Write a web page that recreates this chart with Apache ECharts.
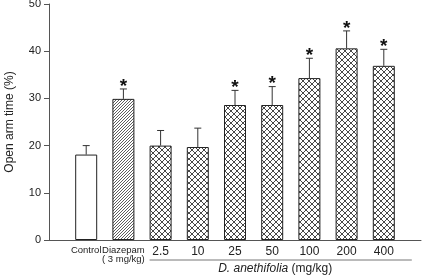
<!DOCTYPE html>
<html>
<head>
<meta charset="utf-8">
<script src="https://cdn.jsdelivr.net/npm/echarts@6/dist/echarts.min.js"></script>
<style>
  html, body { margin: 0; padding: 0; background: #fff; }
  #chart { width: 422px; height: 278px; }
</style>
</head>
<body>
<div id="chart"></div>
<script>
// blank slots at both ends so the axis line runs past the bars
var groups = ['', 'Control', 'Diazepam', '2.5', '10', '25', '50', '100', '200', '400', ''];
var means  = [null, 18.1, 29.9, 20.0, 19.7, 28.6, 28.6, 34.3, 40.6, 36.9, null];
var sems   = [null, 1.9, 2.1, 3.2, 4.0, 3.1, 3.9, 4.2, 3.7, 3.5, null];
var signif = [false, false, true, false, false, true, true, true, true, true, false];
var yTicks = [0, 10, 20, 30, 40, 50];

function makePattern(kind) {
    var c = document.createElement('canvas');
    var s = kind == 'cross' ? 6 : 3;
    c.width = s; c.height = s;
    var ctx = c.getContext('2d');
    ctx.fillStyle = '#fff';
    ctx.fillRect(0, 0, s, s);
    ctx.strokeStyle = '#333';
    ctx.lineWidth = kind == 'cross' ? 0.9 : 0.8;
    ctx.beginPath();
    ctx.moveTo(-1, s + 1); ctx.lineTo(s + 1, -1);
    if (kind == 'cross') {
        ctx.moveTo(-1, -1); ctx.lineTo(s + 1, s + 1);
    }
    ctx.stroke();
    return { image: c, repeat: 'repeat' };
}
var hatch = makePattern('hatch');
var cross = makePattern('cross');

var barData = [];
var errData = [];
for (var i = 0; i < groups.length; i++) {
    if (means[i] == null) { barData.push(null); continue; }
    var fill = i == 1 ? '#fff' : (i == 2 ? hatch : cross);
    barData.push({ value: means[i], itemStyle: { color: fill } });
    errData.push([i, means[i], means[i] + sems[i], signif[i] ? 1 : 0]);
}

var chart = echarts.init(document.getElementById('chart'));

var option = {
    backgroundColor: '#fff',
    animation: false,
    grid: { left: 49, right: 1, top: 4, bottom: 38, containLabel: false, outerBoundsMode: 'none' },
    xAxis: {
        type: 'category',
        data: groups,
        boundaryGap: false,
        axisLine: { lineStyle: { color: '#555', width: 1 } },
        axisTick: { show: false },
        axisLabel: {
            interval: 0,
            hideOverlap: false,
            overflow: 'none',
            margin: 6,
            formatter: function (v) {
                if (v == 'Control') return '{s|Control}';
                if (v == 'Diazepam') return '{s|Diazepam}\n{s|( 3 mg/kg)}';
                return '{n|' + v + '}';
            },
            rich: {
                s: { fontFamily: 'Liberation Sans', fontSize: 9.5, color: '#222', lineHeight: 9 },
                n: { fontFamily: 'Liberation Sans', fontSize: 12, color: '#222', padding: [0, 0, 9, 0] }
            }
        }
    },
    yAxis: {
        type: 'value',
        min: 0,
        max: 50,
        interval: 10,
        name: 'Open arm time (%)',
        nameLocation: 'middle',
        nameGap: 33,
        nameTextStyle: { fontFamily: 'Liberation Sans', fontSize: 12, color: '#222' },
        axisLine: { show: true, lineStyle: { color: '#555', width: 1 } },
        axisTick: { show: true, length: 5, lineStyle: { color: '#555' } },
        axisLabel: {
            fontFamily: 'Liberation Sans', fontSize: 11, color: '#222', margin: 8,
            formatter: function (v) { return yTicks.indexOf(v) >= 0 ? String(v) : ''; }
        },
        splitLine: { show: false }
    },
    series: [
        {
            type: 'bar',
            data: barData,
            barWidth: 22,
            itemStyle: { borderColor: '#222', borderWidth: 1 },
            z: 2
        },
        {
            type: 'custom',
            data: errData,
            z: 3,
            renderItem: function (params, api) {
                var x = api.value(0);
                var base = api.coord([x, api.value(1)]);
                var top = api.coord([x, api.value(2)]);
                var st = { stroke: '#333', lineWidth: 1 };
                var kids = [
                    { type: 'line', shape: { x1: base[0], y1: base[1], x2: top[0], y2: top[1] }, style: st },
                    { type: 'line', shape: { x1: top[0] - 3.5, y1: top[1], x2: top[0] + 3.5, y2: top[1] }, style: st }
                ];
                if (api.value(3) == 1) {
                    kids.push({
                        type: 'text',
                        style: {
                            text: '*', x: top[0], y: top[1] + 7,
                            align: 'center', verticalAlign: 'bottom',
                            font: 'bold 19px "Liberation Sans"', fill: '#111'
                        }
                    });
                }
                return { type: 'group', children: kids };
            }
        }
    ]
};
chart.setOption(option);

// dose bracket under the D. anethifolia groups
var p1 = chart.convertToPixel({ xAxisIndex: 0 }, '2.5');
var p2 = chart.convertToPixel({ xAxisIndex: 0 }, '400');
var yb = chart.convertToPixel({ yAxisIndex: 0 }, 0);
chart.setOption({
    graphic: [
        {
            type: 'line',
            shape: { x1: p1 - 11, y1: yb + 20, x2: p2 + 28, y2: yb + 20 },
            style: { stroke: '#777', lineWidth: 1 }
        },
        {
            type: 'text',
            x: (p1 + p2) / 2 + 3,
            y: yb + 29,
            style: {
                text: '{i|D. anethifolia} {r|(mg/kg)}',
                align: 'center',
                verticalAlign: 'middle',
                rich: {
                    i: { fontFamily: 'Liberation Sans', fontStyle: 'italic', fontSize: 12, fill: '#222' },
                    r: { fontFamily: 'Liberation Sans', fontSize: 12, fill: '#222' }
                }
            }
        }
    ]
});
</script>
</body>
</html>
